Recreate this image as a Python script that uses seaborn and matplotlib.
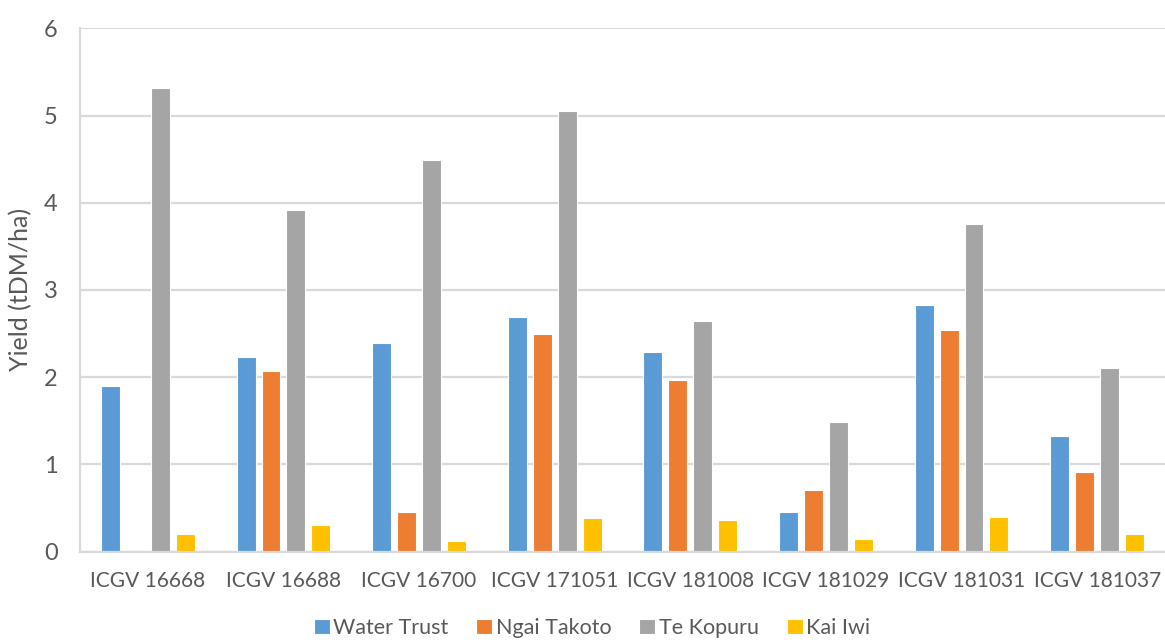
import numpy as np
import pandas as pd
import matplotlib
matplotlib.use("Agg")
import matplotlib.pyplot as plt
import seaborn as sns

# Yield (tDM/ha) of eight groundnut lines at four sites
lines = ["ICGV 16668", "ICGV 16688", "ICGV 16700", "ICGV 171051",
         "ICGV 181008", "ICGV 181029", "ICGV 181031", "ICGV 181037"]
sites = ["Water Trust", "Ngai Takoto", "Te Kopuru", "Kai Iwi"]

water_trust = [1.90, 2.23, 2.39, 2.69, 2.29, 0.45, 2.83, 1.32]
ngai_takoto = [np.nan, 2.07, 0.45, 2.49, 1.97, 0.70, 2.54, 0.91]
te_kopuru = [5.31, 3.92, 4.49, 5.05, 2.64, 1.49, 3.76, 2.10]
kai_iwi = [0.20, 0.30, 0.12, 0.38, 0.36, 0.145, 0.40, 0.20]

site_colors = ["#5B9BD5", "#ED7D31", "#A5A5A5", "#FFC000"]
yticks = [0, 1, 2, 3, 4, 5, 6]

df = pd.DataFrame({
    "line": lines * 4,
    "site": [s for s in sites for _ in lines],
    "yield": water_trust + ngai_takoto + te_kopuru + kai_iwi,
})

sns.set_theme(style="white")
plt.rcParams["font.family"] = ["Lato", "DejaVu Sans"]
text_color = "#595959"
grid_color = "#D9D9D9"

fig = plt.figure(figsize=(11.65, 6.44), dpi=100)
ax = fig.add_axes([80 / 1165, 1 - 551.5 / 644, 1 - 80 / 1165, (551.5 - 28.3) / 644])

sns.barplot(data=df, x="line", y="yield", hue="site", order=lines,
            hue_order=sites, palette=site_colors, width=0.735, gap=0.24,
            edgecolor="white", linewidth=0.8, saturation=1, ax=ax,
            legend=True)

ax.set_ylim(0, 6)
ax.set_xlim(-0.5, len(lines) - 0.5)
ax.set_yticks(yticks)
ax.set_yticklabels([str(t) for t in yticks])
ax.yaxis.grid(True, color=grid_color, linewidth=1.6)
ax.set_axisbelow(True)

for side in ["top", "right"]:
    ax.spines[side].set_visible(False)
ax.spines["left"].set_color(grid_color)
ax.spines["left"].set_linewidth(1.6)
ax.spines["bottom"].set_color(grid_color)
ax.spines["bottom"].set_linewidth(1.6)

ax.tick_params(axis="both", length=0, colors=text_color)
ax.tick_params(axis="x", labelsize=15, pad=14)
ax.tick_params(axis="y", labelsize=17, pad=16)
ax.set_xlabel("")
ax.set_ylabel("Yield (tDM/ha)", color=text_color, fontsize=18, labelpad=8)

handles, labels = ax.get_legend_handles_labels()
ax.get_legend().remove()
fig.legend(handles, labels, loc="center", bbox_to_anchor=(0.508, 16 / 644),
           ncol=4, frameon=False, fontsize=15.5, labelcolor=text_color,
           handlelength=0.75, handleheight=0.75, handletextpad=0.15,
           columnspacing=1.3, borderpad=0)

fig.savefig("out.png", dpi=100)
